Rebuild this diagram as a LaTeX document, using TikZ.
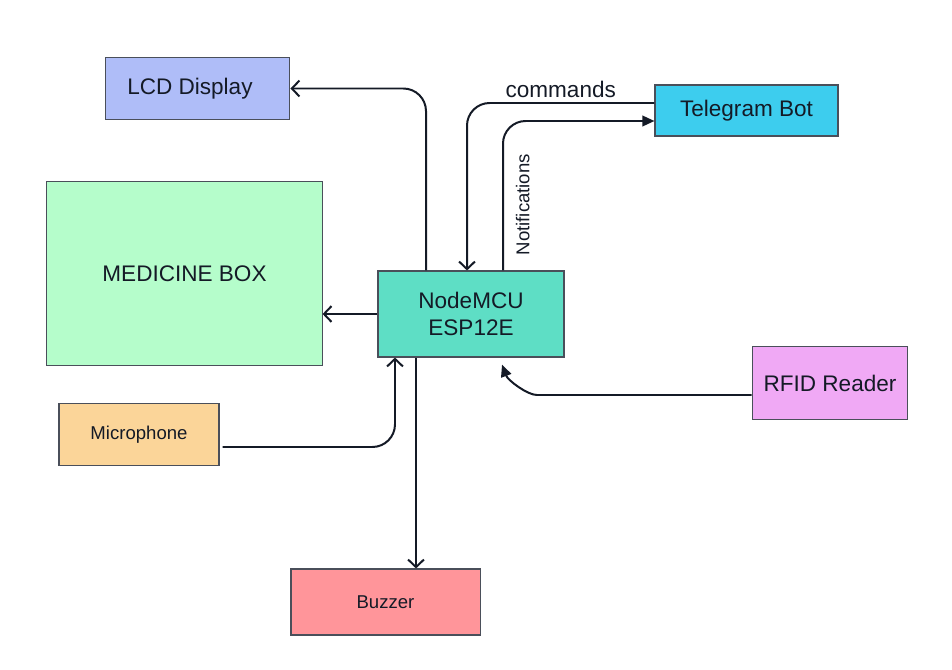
\documentclass[tikz,border=0pt]{standalone}
\usepackage{fontspec}
\setmainfont{Liberation Sans}
\usetikzlibrary{arrows.meta, calc}

\definecolor{ink}{HTML}{141A26}
\definecolor{boxline}{HTML}{4A4F5A}
\definecolor{lcdblue}{HTML}{AFBDF8}
\definecolor{botcyan}{HTML}{3DCDEE}
\definecolor{boxgreen}{HTML}{B5FDCB}
\definecolor{mcuteal}{HTML}{5EDEC5}
\definecolor{rfidpink}{HTML}{F0A9F5}
\definecolor{micorange}{HTML}{FBD599}
\definecolor{buzzred}{HTML}{FF959A}

\begin{document}
\begin{tikzpicture}[x=0.265mm, y=-0.265mm,
  block/.style={draw=boxline, line width=0.8pt, text=ink, align=center,
    font=\fontsize{17}{21}\selectfont},
  smalltext/.style={font=\fontsize{14}{17}\selectfont},
  link/.style={draw=ink, line width=1.5pt, rounded corners=6mm,
    -{Straight Barb[length=2mm,width=4.2mm]}},
  filltip/.style={-{Triangle[length=3.2mm,width=2.8mm]}}]
  \useasboundingbox (0,0) rectangle (952,670);

  % blocks
  \node[block, fill=lcdblue, minimum width=49mm, minimum height=16.2mm] (lcd) at (197.5,88.5) {\hspace*{-4mm}LCD Display};
  \node[block, fill=botcyan, minimum width=48.5mm, minimum height=13.5mm] (bot) at (746.5,110.5) {Telegram Bot};
  \node[block, fill=boxgreen, minimum width=72.9mm, minimum height=49mm] (box) at (184.5,273.5) {MEDICINE BOX};
  \node[block, fill=mcuteal, minimum width=49.3mm, minimum height=22.8mm] (mcu) at (471,314) {NodeMCU\\ESP12E};
  \node[block, fill=rfidpink, minimum width=41.3mm, minimum height=19.1mm] (rfid) at (830,383) {RFID Reader};
  \node[block, smalltext, fill=micorange, minimum width=42.4mm, minimum height=16.2mm] (mic) at (139,434.5) {Microphone};
  \node[block, smalltext, fill=buzzred, minimum width=50.1mm, minimum height=17.5mm] (buzz) at (385.5,602) {Buzzer};

  % connectors
  \coordinate (bz) at ($(mcu.south)+(-55,0)$);
  \coordinate (rf) at ($(mcu.south)+(31,7)$);
  \draw[link] ($(mcu.north)+(-45,0)$) |- (lcd.east);
  \draw[link] ($(bot.west)+(0,-7.5)$) -| ($(mcu.north)+(-4,0)$)
    node[pos=0.25, above, text=ink, font=\fontsize{17}{21}\selectfont] {commands};
  \draw[link, filltip] ($(mcu.north)+(32,0)$) |- ($(bot.west)+(0,10.5)$)
    node[pos=0.22, rotate=90, anchor=north, inner ysep=9pt, text=ink, smalltext] {Notifications};
  \draw[link] (mcu.west) -- (mcu.west -| box.east);
  \draw[link] ($(mic.east)+(3,12.5)$) -| ($(mcu.south)+(-76,0)$);
  \draw[link] (bz) -- (bz |- buzz.north);
  \draw[link, filltip] ($(rfid.west)+(0,12)$) -- ++(-192,0) .. controls +(-32,0) and +(6,16) .. (rf);
\end{tikzpicture}
\end{document}
